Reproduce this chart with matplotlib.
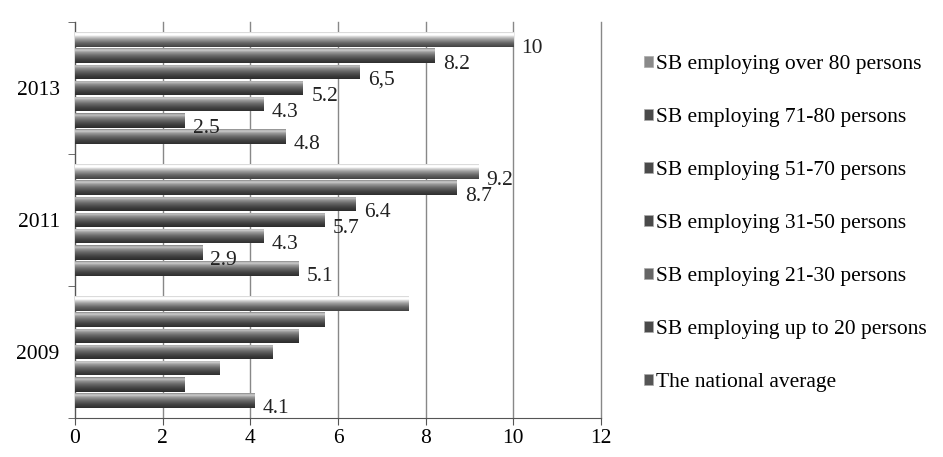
import matplotlib
matplotlib.use("Agg")
import matplotlib.pyplot as plt
import numpy as np
from matplotlib.patches import Patch

years = ["2009", "2011", "2013"]
series = [
    "The national average",
    "SB employing up to 20 persons",
    "SB employing 21-30 persons",
    "SB employing 31-50 persons",
    "SB employing 51-70 persons",
    "SB employing 71-80 persons",
    "SB employing over 80 persons",
]
national = [4.1, 5.1, 4.8]
upto20 = [2.5, 2.9, 2.5]
emp21_30 = [3.3, 4.3, 4.3]
emp31_50 = [4.5, 5.7, 5.2]
emp51_70 = [5.1, 6.4, 6.5]
emp71_80 = [5.7, 8.7, 8.2]
over80 = [7.6, 9.2, 10]
values = [national, upto20, emp21_30, emp31_50, emp51_70, emp71_80, over80]

labels_national = ["4.1", "5.1", "4.8"]
labels_upto20 = ["", "2.9", "2.5"]
labels_21_30 = ["", "4.3", "4.3"]
labels_31_50 = ["", "5.7", "5.2"]
labels_51_70 = ["", "6.4", "6,5"]
labels_71_80 = ["", "8.7", "8.2"]
labels_over80 = ["", "9.2", "10"]
value_labels = [labels_national, labels_upto20, labels_21_30, labels_31_50,
                labels_51_70, labels_71_80, labels_over80]

xticks = [0, 2, 4, 6, 8, 10, 12]

plt.rcParams['font.family'] = ['Liberation Serif', 'DejaVu Serif']

fig = plt.figure(figsize=(9.43, 4.57), dpi=100)
ax = fig.add_axes([75/943, 1-418/457, (601-75)/943, (418-22)/457])

n = len(series)
group_w = 0.85
slot = group_w / n
bar_h = slot * 0.93
lightness = [0.9, 0.85, 0.92, 0.85, 0.85, 0.9, 1.3]

# vertical gradient profile (top -> bottom)
prof_t = np.array([0.0, 0.12, 0.28, 0.5, 0.75, 1.0])
prof_v = np.array([0.6, 0.9, 0.66, 0.46, 0.3, 0.2])
tt = np.linspace(0, 1, 40)
base = np.interp(tt, prof_t, prof_v)

y_centers = np.arange(len(years))
for i, (vals, labs) in enumerate(zip(values, value_labels)):
    pos = y_centers - group_w / 2 + (i + 0.5) * slot
    bars = ax.barh(pos, vals, height=bar_h, color="#555555", edgecolor="none", zorder=2)
    g = np.clip(base * lightness[i], 0, 1)
    img = np.repeat(g[:, None, None], 3, axis=2)
    for b, lab in zip(bars, labs):
        x0, y0 = b.get_x(), b.get_y()
        w, h = b.get_width(), b.get_height()
        im = ax.imshow(img, extent=[x0, x0 + w, y0, y0 + h], aspect='auto',
                       origin='upper', zorder=3, interpolation='bilinear')
        im.set_clip_path(b)
        if lab:
            ax.annotate(lab, (x0 + w, y0 + h / 2), xytext=(6, -6),
                        textcoords='offset points', ha='left', va='center',
                        fontsize=15.5, color='#222222', zorder=4)

ax.set_xlim(0, 12)
ax.set_ylim(-0.5, 2.5)
ax.set_xticks(xticks)
ax.set_xticklabels([str(x) for x in xticks], fontsize=15.5)
ax.set_yticks(y_centers)
ax.set_yticklabels(years, fontsize=15.5)
ax.set_yticks([-0.5, 0.5, 1.5, 2.5], minor=True)
ax.tick_params(axis='y', which='major', length=0, pad=11)
ax.tick_params(axis='y', which='minor', length=5, color='#555555', direction='out')
ax.tick_params(axis='x', length=5, color='#555555', direction='out', pad=3)
ax.grid(axis='x', color='#888888', linewidth=1, zorder=0)
ax.set_axisbelow(True)
for gl in ax.xaxis.get_gridlines():
    gl.set_clip_on(False)
for s in ['top', 'right']:
    ax.spines[s].set_visible(False)
ax.spines['left'].set_color('#555555')
ax.spines['bottom'].set_color('#555555')

handle_colors = ['#555555', '#4a4a4a', '#666666', '#4a4a4a', '#4a4a4a', '#4a4a4a', '#8a8a8a']
handles = [Patch(facecolor=c, edgecolor='#aaaaaa', linewidth=0.5) for c in handle_colors]
leg = fig.legend(handles[::-1], series[::-1], loc='center left',
                 bbox_to_anchor=(0.662, 0.511), frameon=False, fontsize=15.5,
                 handlelength=0.42, handleheight=0.42, handletextpad=0.15,
                 labelspacing=1.58)

fig.savefig("out.png", dpi=100, facecolor='white')
